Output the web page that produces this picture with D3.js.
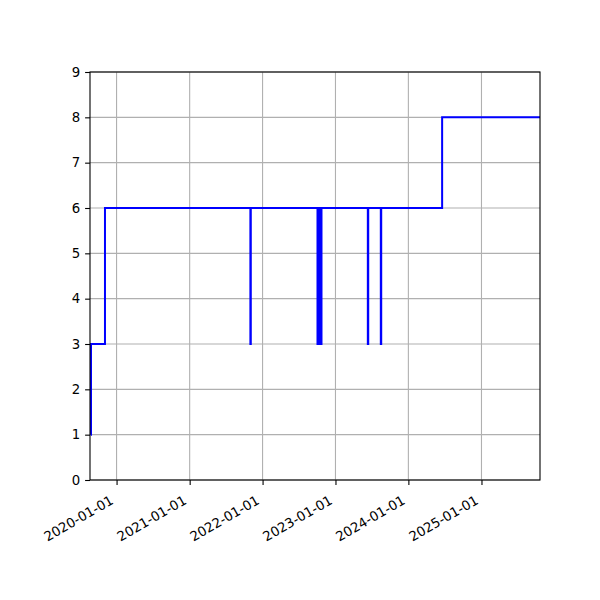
<!DOCTYPE html>
<html>
<head>
<meta charset="utf-8">
<script src="https://cdn.jsdelivr.net/npm/d3@7"></script>
<style>
  body { margin: 0; background: #fff; }
  text { font-family: "DejaVu Sans", sans-serif; }
</style>
</head>
<body>
<div id="chart"></div>
<script>
// step series: date of change and the value from that date on
var dates = ["2019-08-25", "2019-08-26", "2019-11-04",
  "2021-11-01", "2021-11-03",
  "2022-10-03", "2022-10-05", "2022-10-12", "2022-10-14", "2022-10-21", "2022-10-23",
  "2023-06-12", "2023-06-14",
  "2023-08-16", "2023-08-18",
  "2024-06-18", "2025-10-21"]
var values = [1, 3, 6,
  3, 6,
  3, 6, 3, 6, 3, 6,
  3, 6,
  3, 6,
  8, 8]
var xStart = "2019-08-21", xEnd = "2025-10-21"
var xTicks = ["2020-01-01", "2021-01-01", "2022-01-01", "2023-01-01", "2024-01-01", "2025-01-01"]
var yTicks = [0, 1, 2, 3, 4, 5, 6, 7, 8, 9]

var parse = d3.timeParse("%Y-%m-%d")
var data = dates.map(function(d, i) { return { date: parse(d), value: values[i] }; })

var svg = d3.select("#chart").append("svg")
	.attr("width", 600)
	.attr("height", 600)

var mLeft = 90, mRight = 540, mTop = 72, mBottom = 480

var x = d3.scaleTime()
	.domain([parse(xStart), parse(xEnd)])
	.range([mLeft, mRight])
var y = d3.scaleLinear()
	.domain([0, 9])
	.range([mBottom, mTop])

// grid
svg.append("g").selectAll("line")
	.data(xTicks.map(parse))
	.enter()
		.append("line")
		.attr("x1", function(d) { return x(d); })
		.attr("x2", function(d) { return x(d); })
		.attr("y1", mTop)
		.attr("y2", mBottom)
		.attr("stroke", "#b0b0b0")
		.attr("stroke-width", 1.1)
svg.append("g").selectAll("line")
	.data(yTicks)
	.enter()
		.append("line")
		.attr("x1", mLeft)
		.attr("x2", mRight)
		.attr("y1", function(d) { return y(d); })
		.attr("y2", function(d) { return y(d); })
		.attr("stroke", "#b0b0b0")
		.attr("stroke-width", 1.1)

// the step line
var line = d3.line()
	.x(function(d) { return x(d.date); })
	.y(function(d) { return y(d.value); })
	.curve(d3.curveStepAfter)

svg.append("path")
	.datum(data)
	.attr("fill", "none")
	.attr("stroke", "#0000ff")
	.attr("stroke-width", 2)
	.attr("d", line)

// axes
var xAxis = svg.append("g")
	.attr("transform", "translate(0," + mBottom + ")")
	.call(d3.axisBottom(x).tickValues(xTicks.map(parse)).tickFormat(d3.timeFormat("%Y-%m-%d")).tickSize(4.9).tickPadding(4.9))
xAxis.selectAll("text")
	.attr("font-size", 13.3)
	.attr("fill", "#000")
	.attr("text-anchor", "end")
	.attr("x", 0)
	.attr("y", 0)
	.attr("dy", "0.35em")
	.attr("transform", "translate(-5,19) rotate(-30)")

var yAxis = svg.append("g")
	.attr("transform", "translate(" + mLeft + ",0)")
	.call(d3.axisLeft(y).tickValues(yTicks).tickFormat(d3.format("d")).tickSize(4.9).tickPadding(4.9))
yAxis.selectAll("text")
	.attr("font-size", 13.3)
	.attr("fill", "#000")

svg.selectAll(".domain").remove()
svg.selectAll(".tick line").attr("stroke", "#000").attr("stroke-width", 1.1)

// frame
svg.append("rect")
	.attr("x", mLeft)
	.attr("y", mTop)
	.attr("width", mRight - mLeft)
	.attr("height", mBottom - mTop)
	.attr("fill", "none")
	.attr("stroke", "#000")
	.attr("stroke-width", 1.1)
</script>
</body>
</html>
